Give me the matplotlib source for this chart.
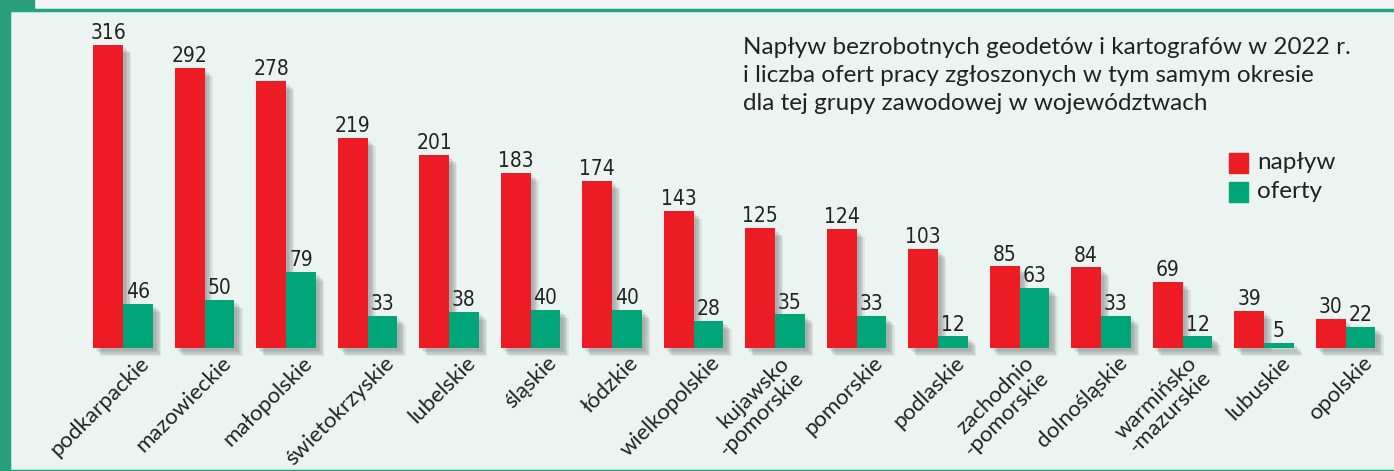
import matplotlib
matplotlib.use("Agg")
import matplotlib.pyplot as plt
import matplotlib.patheffects as pe
from matplotlib.patches import Rectangle

# data
regions = [
    "podkarpackie", "mazowieckie", "małopolskie", "świetokrzyskie",
    "lubelskie", "śląskie", "łódzkie", "wielkopolskie",
    "kujawsko\n-pomorskie", "pomorskie", "podlaskie", "zachodnio\n-pomorskie",
    "dolnośląskie", "warmińsko\n-mazurskie", "lubuskie", "opolskie",
]
naplyw = [316, 292, 278, 219, 201, 183, 174, 143, 125, 124, 103, 85, 84, 69, 39, 30]
oferty = [46, 50, 79, 33, 38, 40, 40, 28, 35, 33, 12, 63, 33, 12, 5, 22]

title = ("Napływ bezrobotnych geodetów i kartografów w 2022 r.\n"
         "i liczba ofert pracy zgłoszonych w tym samym okresie\n"
         "dla tej grupy zawodowej w województwach")

RED = "#ED1C24"
GREEN = "#00A67A"
PANEL = "#EBF4F1"
BORDER = "#1FA57C"
W, H = 1394, 471

plt.rcParams["font.family"] = ["Lato", "DejaVu Sans"]

fig = plt.figure(figsize=(W / 100, H / 100), dpi=100)
fig.patch.set_facecolor("#F3F3F3")
ax = fig.add_axes([0, 0, 1, 1])
ax.patch.set_visible(False)
ax.set_axis_off()

# pixel mapping: group centre at 123 + 81.5*i, baseline 348px from top
ax.set_xlim(-123 / 81.5, (W - 123) / 81.5)
ax.set_ylim(-123 / 0.959, 348 / 0.959)

# background frame
ax.add_patch(Rectangle((0, 0), 8 / W, 1, transform=fig.transFigure,
                       color="#2A9E78", zorder=0, clip_on=False))
ax.add_patch(Rectangle((0, (H - 9) / H), 34 / W, 9 / H, transform=fig.transFigure,
                       color="#2A9E78", zorder=0, clip_on=False))
ax.add_patch(Rectangle((9 / W, 0), 1, (H - 10) / H, transform=fig.transFigure,
                       facecolor=PANEL, edgecolor=BORDER, linewidth=2.5,
                       zorder=0, clip_on=False))

bw = 0.368
# soft-ish shadow built from a few faint offset copies
shadow = [pe.SimplePatchShadow(offset=(o, -o), shadow_rgbFace="#444444", alpha=0.09)
          for o in (2, 3, 4, 5, 6)] + [pe.Normal()]
x = list(range(len(regions)))
b1 = ax.bar([i - bw / 2 for i in x], naplyw, width=bw, color=RED, zorder=3)
b2 = ax.bar([i + bw / 2 for i in x], oferty, width=bw, color=GREEN, zorder=3)
for b in list(b1) + list(b2):
    b.set_path_effects(shadow)

num_kw = dict(ha="center", va="bottom", fontsize=15, family="DejaVu Sans",
              fontstretch="condensed", color="#222222", zorder=4)
for i in x:
    ax.text(i - bw / 2, naplyw[i] + 2, str(naplyw[i]), **num_kw)
    ax.text(i + bw / 2, oferty[i] + 2, str(oferty[i]), **num_kw)
    two = "\n" in regions[i]
    ax.text(i + (0.05 if two else 0.2), -5, regions[i], rotation=45,
            ha="right", va="top", rotation_mode="anchor",
            multialignment="right", fontsize=16, color="#222222",
            linespacing=1.05)

fig.text(743 / W, 1 - 37 / H, title, ha="left", va="top", fontsize=17.5,
         color="#222222", linespacing=1.42)

# legend
for j, (lab, col) in enumerate([("napływ", RED), ("oferty", GREEN)]):
    ytop = 153 + 29 * j
    ax.add_patch(Rectangle((1229 / W, 1 - (ytop + 20) / H), 19 / W, 20 / H,
                           transform=fig.transFigure, color=col, zorder=3,
                           clip_on=False))
    fig.text(1257 / W, 1 - (ytop + 10) / H, lab, ha="left", va="center",
             fontsize=17.5, color="#222222")

fig.savefig("out.png", dpi=100, facecolor=fig.get_facecolor())
